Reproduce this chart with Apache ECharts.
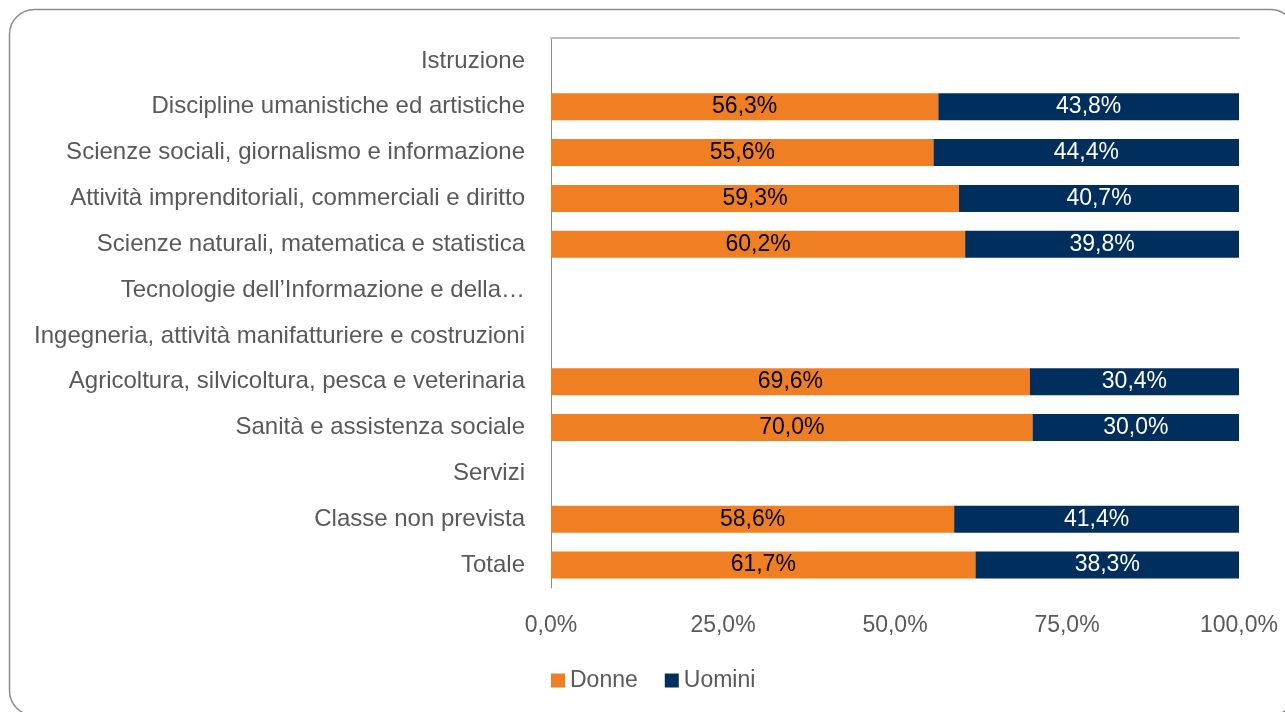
<!DOCTYPE html>
<html>
<head>
<meta charset="utf-8">
<script src="https://cdn.jsdelivr.net/npm/echarts@6/dist/echarts.min.js"></script>
<style>
  html, body { margin: 0; padding: 0; background: #fff; }
  #chart { width: 1285px; height: 712px; }
</style>
</head>
<body>
<div id="chart"></div>
<script>
// categorie e valori (percentuali)
const categories = [
  'Istruzione',
  'Discipline umanistiche ed artistiche',
  'Scienze sociali, giornalismo e informazione',
  'Attività imprenditoriali, commerciali e diritto',
  'Scienze naturali, matematica e statistica',
  'Tecnologie dell\u2019Informazione e della\u2026',
  'Ingegneria, attività manifatturiere e costruzioni',
  'Agricoltura, silvicoltura, pesca e veterinaria',
  'Sanità e assistenza sociale',
  'Servizi',
  'Classe non prevista',
  'Totale'
]
const donne = [null, 56.3, 55.6, 59.3, 60.2, null, null, 69.6, 70.0, null, 58.6, 61.7]
const uomini = [null, 43.8, 44.4, 40.7, 39.8, null, null, 30.4, 30.0, null, 41.4, 38.3]
const seriesNames = ['Donne', 'Uomini']

const FONT = 'Liberation Sans'
const pct = v => v.toFixed(1).replace('.', ',') + '%'

const myChart = echarts.init(document.getElementById('chart'))
myChart.setOption({
  animation: false,
  textStyle: { fontFamily: FONT },
  graphic: [{
    type: 'rect',
    shape: { x: 9.5, y: 9.5, width: 1286, height: 706, r: 25 },
    style: { fill: 'none', stroke: '#8c8c8c', lineWidth: 1.5 },
    z: -1
  }],
  legend: {
    data: seriesNames,
    left: 546,
    top: 664,
    itemWidth: 14,
    itemHeight: 14,
    itemGap: 27,
    icon: 'rect',
    textStyle: { fontSize: 23, color: '#595959', fontFamily: FONT }
  },
  grid: {
    left: 551,
    right: 46,
    top: 38,
    bottom: 124,
    containLabel: false
  },
  xAxis: [{
    type: 'value',
    min: 0,
    max: 100,
    interval: 25,
    position: 'bottom',
    axisLine: { show: false },
    axisTick: { show: false },
    splitLine: { show: false },
    axisLabel: {
      margin: 26,
      fontSize: 23,
      color: '#595959',
      formatter: v => pct(v)
    }
  }, {
    type: 'value',
    min: 0,
    max: 100,
    position: 'top',
    axisLine: { show: true, lineStyle: { color: '#bdbdbd', width: 2 } },
    axisTick: { show: false },
    axisLabel: { show: false },
    splitLine: { show: false }
  }],
  yAxis: {
    type: 'category',
    inverse: true,
    data: categories,
    axisLine: { show: true, lineStyle: { color: '#8c8c8c', width: 1 } },
    axisTick: { show: false },
    axisLabel: {
      margin: 26,
      fontSize: 24,
      padding: [3, 0, 0, 0],
      color: '#595959'
    }
  },
  series: [{
    name: 'Donne',
    type: 'bar',
    stack: 'tot',
    data: donne,
    barWidth: '59%',
    itemStyle: { color: '#EF7F22' },
    label: {
      show: true,
      position: 'inside',
      fontSize: 23,
      padding: [3, 0, 0, 0],
      color: '#000',
      formatter: p => pct(p.value)
    }
  }, {
    name: 'Uomini',
    type: 'bar',
    stack: 'tot',
    data: uomini,
    barWidth: '59%',
    itemStyle: { color: '#002E5D' },
    label: {
      show: true,
      position: 'inside',
      fontSize: 23,
      padding: [3, 0, 0, 0],
      color: '#fff',
      formatter: p => pct(p.value)
    }
  }]
})
</script>
</body>
</html>
